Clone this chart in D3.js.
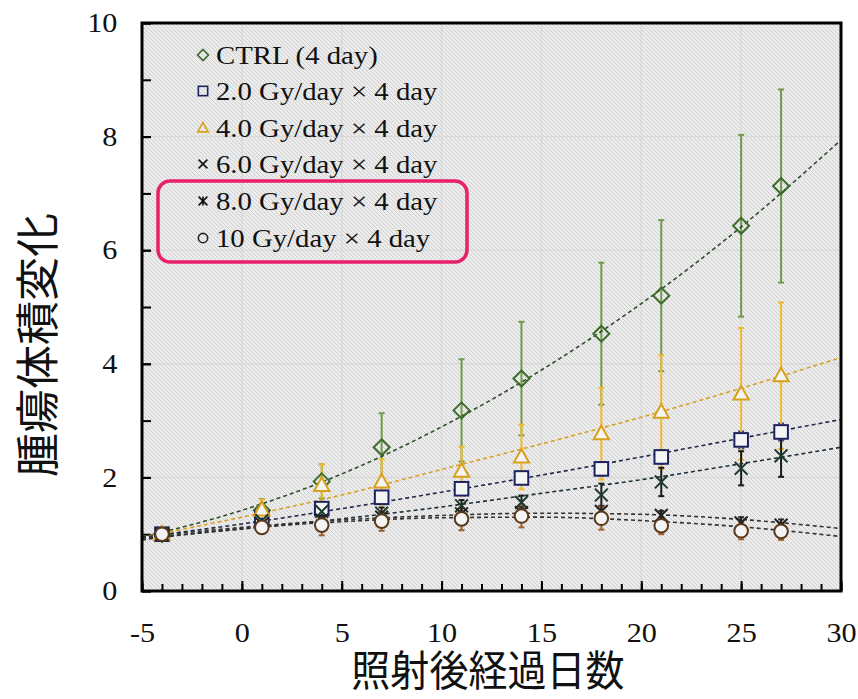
<!DOCTYPE html>
<html><head><meta charset="utf-8">
<script src="https://cdn.jsdelivr.net/npm/d3@7"></script>
<style>body{margin:0;background:#fff}svg{display:block}</style>
</head><body>
<svg id="c" width="858" height="699"></svg>
<script>
// ---- data ----
const days = [-4, 1, 4, 7, 11, 14, 18, 21, 25, 27];
const ctrl   = [1.0, 1.42, 1.93, 2.53, 3.18, 3.74, 4.53, 5.20, 6.43, 7.13];
const ctrlSD = [0.03, 0.2, 0.3, 0.6, 0.9, 1.0, 1.25, 1.33, 1.6, 1.7];
const gy2    = [1.0, 1.28, 1.45, 1.65, 1.80, 1.99, 2.15, 2.36, 2.66, 2.80];
const gy2SD  = [0.03, 0.08, 0.1, 0.1, 0.1, 0.1, 0.12, 0.12, 0.15, 0.15];
const gy4    = [1.0, 1.43, 1.86, 1.92, 2.11, 2.36, 2.77, 3.15, 3.47, 3.79];
const gy4SD  = [0.03, 0.18, 0.37, 0.4, 0.43, 0.57, 0.81, 1.0, 1.16, 1.29];
const gy6    = [1.0, 1.24, 1.40, 1.37, 1.50, 1.56, 1.69, 1.92, 2.16, 2.38];
const gy6SD  = [0.03, 0.06, 0.08, 0.1, 0.1, 0.12, 0.2, 0.25, 0.3, 0.37];
const gy8    = [1.0, 1.18, 1.25, 1.30, 1.36, 1.38, 1.40, 1.33, 1.20, 1.16];
const gy8SD  = [0.03, 0.05, 0.08, 0.08, 0.1, 0.1, 0.1, 0.08, 0.1, 0.1];
const gy10   = [1.0, 1.12, 1.16, 1.23, 1.27, 1.32, 1.28, 1.15, 1.06, 1.05];
const gy10SD = [0.03, 0.1, 0.18, 0.17, 0.2, 0.2, 0.2, 0.15, 0.15, 0.15];

// trend (fitted) curves
const trendX     = [-5, 0, 5, 10, 15, 20, 25, 30];
const ctrlTrend  = [0.95, 1.42, 2.06, 2.89, 3.89, 5.06, 6.41, 7.94];
const gy2Trend   = [0.95, 1.18, 1.45, 1.74, 2.04, 2.36, 2.69, 3.02];
const gy4Trend   = [0.95, 1.30, 1.69, 2.14, 2.59, 3.06, 3.57, 4.11];
const gy6Trend   = [0.93, 1.09, 1.27, 1.48, 1.72, 1.96, 2.24, 2.53];
const gy8Trend   = [0.95, 1.12, 1.25, 1.33, 1.37, 1.35, 1.26, 1.10];
const gy10Trend  = [0.90, 1.10, 1.22, 1.29, 1.30, 1.24, 1.13, 0.96];

const labels = ["CTRL (4 day)", "2.0 Gy/day × 4 day", "4.0 Gy/day × 4 day",
                "6.0 Gy/day × 4 day", "8.0 Gy/day × 4 day", "10 Gy/day × 4 day"];
const xTickLabels = [-5, 0, 5, 10, 15, 20, 25, 30];
const yTickLabels = [0, 2, 4, 6, 8, 10];
const xTitle = "照射後経過日数";
const yTitle = "腫瘍体積変化";

// ---- styling ----
const series = [
  {v: ctrl, sd: ctrlSD, t: ctrlTrend, shape: "diamond", mk: "#3d6b2a", eb: "#6f9a4a", tl: "#2f4f2a"},
  {v: gy2,  sd: gy2SD,  t: gy2Trend,  shape: "square",  mk: "#1c2260", eb: "#3a4a9a", tl: "#222a4a"},
  {v: gy4,  sd: gy4SD,  t: gy4Trend,  shape: "triangle",mk: "#d9a01a", eb: "#f2b92c", tl: "#d9a020"},
  {v: gy6,  sd: gy6SD,  t: gy6Trend,  shape: "x",       mk: "#1d3a2a", eb: "#1a1a1a", tl: "#1f2f3a"},
  {v: gy8,  sd: gy8SD,  t: gy8Trend,  shape: "star",    mk: "#222222", eb: "#333333", tl: "#333333"},
  {v: gy10, sd: gy10SD, t: gy10Trend, shape: "circle",  mk: "#5a3a1a", eb: "#9a6030", tl: "#333333"}
];
const serif = "'Liberation Serif', 'Times New Roman', serif";

const svg = d3.select("#c");
const L = 142, R = 841, T = 23, B = 591;
const x = d3.scaleLinear().domain([-5, 30]).range([L, R]);
const y = d3.scaleLinear().domain([0, 10]).range([B, T]);

// hatch pattern
const defs = svg.append("defs");
const pat = defs.append("pattern").attr("id", "hatch").attr("patternUnits", "userSpaceOnUse")
  .attr("width", 4).attr("height", 4);
pat.append("rect").attr("width", 4).attr("height", 4).attr("fill", "#ececec");
pat.append("path").attr("d", "M-1,-1L5,5M-1,3L1,5M3,-1L5,1").attr("stroke", "#d0d0d0").attr("stroke-width", 1);
defs.append("clipPath").attr("id", "clip").append("rect")
  .attr("x", L).attr("y", T).attr("width", R - L).attr("height", B - T);

svg.append("rect").attr("x", L).attr("y", T).attr("width", R - L).attr("height", B - T).attr("fill", "url(#hatch)");

// grid
const grid = svg.append("g");
grid.selectAll(".gx").data(xTickLabels.slice(1, -1)).join("line")
  .attr("x1", d => x(d)).attr("x2", d => x(d)).attr("y1", T).attr("y2", B)
  .attr("stroke", "#d9d9d9").attr("stroke-width", 1.5);
grid.selectAll(".gy").data(yTickLabels.slice(1, -1)).join("line")
  .attr("y1", d => y(d)).attr("y2", d => y(d)).attr("x1", L).attr("x2", R)
  .attr("stroke", "#d9d9d9").attr("stroke-width", 1.5);

// axes (ticks inward)
const fmt = d => String(d);
const xAxisMinor = d3.axisBottom(x).tickValues(d3.range(-5, 31, 1)).tickSize(-7).tickFormat("");
const gxm = svg.append("g").attr("transform", `translate(0,${B})`).call(xAxisMinor);
const xAxisMajor = d3.axisBottom(x).tickValues(xTickLabels).tickSize(-10).tickPadding(30).tickFormat(fmt);
const gx = svg.append("g").attr("transform", `translate(0,${B})`).call(xAxisMajor);
const yAxisMinor = d3.axisLeft(y).tickValues(d3.range(0, 11, 1)).tickSize(-9).tickFormat("");
const gym = svg.append("g").attr("transform", `translate(${L},0)`).call(yAxisMinor);
const yAxisMajor = d3.axisLeft(y).tickValues(yTickLabels).tickSize(-9).tickPadding(24).tickFormat(fmt);
const gy = svg.append("g").attr("transform", `translate(${L},0)`).call(yAxisMajor);
[gxm, gym].forEach(g => g.selectAll(".tick text").remove());
[gxm, gx, gym, gy].forEach(g => {
  g.select(".domain").remove();
  g.selectAll(".tick line").attr("stroke", "#000").attr("stroke-width", 2);
});
gx.selectAll(".tick text").attr("font-family", serif).attr("font-size", 27)
  .attr("fill", "#111").attr("dy", "0.32em").attr("y", 42).attr("transform", "scale(1.12,1)");
gy.selectAll(".tick text").attr("font-family", serif).attr("font-size", 27)
  .attr("fill", "#111").attr("x", -22).attr("transform", "scale(1.12,1)");

// data layer clipped
const plot = svg.append("g").attr("clip-path", "url(#clip)");

// error bars
series.forEach(s => {
  const g = plot.append("g");
  days.forEach((d, i) => {
    const lo = s.v[i] - s.sd[i], hi = s.v[i] + s.sd[i];
    g.append("line").attr("x1", x(d)).attr("x2", x(d)).attr("y1", y(lo)).attr("y2", y(hi))
      .attr("stroke", s.eb).attr("stroke-width", 2);
    [lo, hi].forEach(v => g.append("line").attr("x1", x(d) - 3).attr("x2", x(d) + 3)
      .attr("y1", y(v)).attr("y2", y(v)).attr("stroke", s.eb).attr("stroke-width", 2));
  });
});

// trend lines
const line = d3.line().x((d, i) => x(trendX[i])).y(d => y(d)).curve(d3.curveMonotoneX);
series.forEach(s => {
  plot.append("path").attr("d", line(s.t)).attr("fill", "none").attr("stroke", s.tl)
    .attr("stroke-width", 1.6).attr("stroke-dasharray", "4,3");
});

function marker(g, shape, cx, cy, r, col, sw, fill) {
  let p;
  if (shape === "diamond") p = g.append("path").attr("d", `M${cx},${cy - r}L${cx + r},${cy}L${cx},${cy + r}L${cx - r},${cy}Z`);
  else if (shape === "square") { const h = r * 0.85; p = g.append("rect").attr("x", cx - h).attr("y", cy - h).attr("width", 2 * h).attr("height", 2 * h); }
  else if (shape === "triangle") { const h = r; p = g.append("path").attr("d", `M${cx},${cy - h}L${cx + h * 0.95},${cy + h * 0.7}L${cx - h * 0.95},${cy + h * 0.7}Z`); }
  else if (shape === "circle") p = g.append("circle").attr("cx", cx).attr("cy", cy).attr("r", r * 0.85);
  else if (shape === "x") { const h = r * 0.8; p = g.append("path").attr("d", `M${cx - h},${cy - h}L${cx + h},${cy + h}M${cx - h},${cy + h}L${cx + h},${cy - h}`); fill = "none"; }
  else if (shape === "star") { const h = r * 0.8; p = g.append("path").attr("d", `M${cx - h},${cy - h}L${cx + h},${cy + h}M${cx - h},${cy + h}L${cx + h},${cy - h}M${cx},${cy - h}L${cx},${cy + h}`); fill = "none"; }
  p.attr("stroke", col).attr("stroke-width", sw).attr("fill", fill);
}

// markers
series.forEach(s => {
  const g = plot.append("g");
  days.forEach((d, i) => marker(g, s.shape, x(d), y(s.v[i]), 8, s.mk, 2, s.shape === "diamond" ? "none" : "#f4f4f4"));
});

// frame
svg.append("rect").attr("x", L).attr("y", T).attr("width", R - L).attr("height", B - T)
  .attr("fill", "none").attr("stroke", "#000").attr("stroke-width", 3);

// legend
const lg = svg.append("g");
const rowY = [55, 91, 128, 164, 201, 238];
series.forEach((s, i) => {
  marker(lg, s.shape, 203, rowY[i], 5.5, s.shape === "x" || s.shape === "star" ? "#111" : (s.shape === "circle" ? "#222" : s.mk), 1.6, "none");
  lg.append("text").attr("transform", `translate(216,${rowY[i]}) scale(1.15,1)`)
    .attr("dy", "0.35em").attr("font-family", serif).attr("font-size", 25)
    .attr("fill", "#111").text(labels[i]);
});
lg.append("rect").attr("x", 158).attr("y", 181).attr("width", 309).attr("height", 81).attr("rx", 12)
  .attr("fill", "none").attr("stroke", "#e8206a").attr("stroke-width", 3.5);

// axis titles
svg.append("text").attr("transform", `translate(488,686) scale(0.93,1)`).attr("text-anchor", "middle")
  .attr("font-family", "Noto Sans CJK JP, sans-serif").attr("font-size", 42).attr("fill", "#111").text(xTitle);
svg.append("text").attr("transform", `translate(54,345) rotate(-90)`).attr("text-anchor", "middle")
  .attr("font-family", "Noto Sans CJK JP, sans-serif").attr("font-size", 44).attr("fill", "#111").text(yTitle);
</script>
</body></html>
